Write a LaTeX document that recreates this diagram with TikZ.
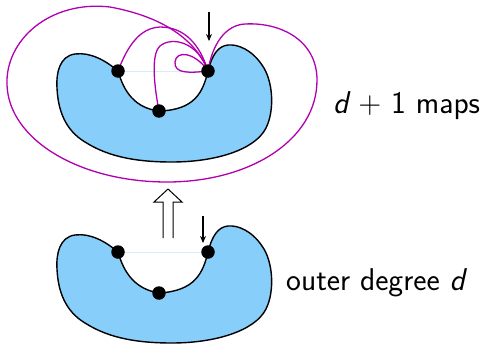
\documentclass[tikz,border=0pt]{standalone}
\usetikzlibrary{arrows.meta}
\definecolor{blobfill}{RGB}{135,206,250}
\definecolor{mapline}{RGB}{176,0,176}
\definecolor{faint}{RGB}{215,235,250}
\tikzset{
  blob/.style={draw=black, line width=1.4pt, fill=blobfill},
  mapedge/.style={draw=mapline, line width=1.3pt},
  dot/.style={circle, fill=black, inner sep=0pt, minimum size=13.5pt},
  rootarrow/.style={draw=black, line width=1.4pt, -{Stealth[length=7pt,width=6pt]}},
  label/.style={font=\sffamily\fontsize{31.5}{36}\selectfont, anchor=base west, inner sep=0pt},
}
\begin{document}
\begin{tikzpicture}[x=1pt,y=-1pt]
\useasboundingbox (0,0) rectangle (485,343);
% ---------- top map ----------
\coordinate (L1) at (118,71);
\coordinate (B1) at (159,111);
\coordinate (R1) at (208,71);
\path[blob] (L1) .. controls (105,60) and (90,52) .. (75,54)
  .. controls (60,56) and (56,72) .. (57,88)
  .. controls (58,110) and (65,130) .. (85,142)
  .. controls (110,158) and (140,162) .. (172,162)
  .. controls (215,162) and (255,150) .. (266,128)
  .. controls (275,110) and (273,80) .. (262,65)
  .. controls (252,50) and (238,44) .. (228,45)
  .. controls (218,46) and (212,55) .. (R1)
  .. controls (203,92) and (195,110) .. (B1)
  .. controls (135,108) and (124,92) .. (L1) -- cycle;
\draw[faint, line width=0.6pt] (L1) -- (R1);
% magenta edges
\draw[mapedge] (R1) .. controls (198,45) and (170,18) .. (110,7)
  .. controls (50,0) and (5,40) .. (7,85)
  .. controls (9,140) and (80,182) .. (167,182)
  .. controls (250,182) and (317,140) .. (317,80)
  .. controls (317,40) and (280,22) .. (245,24)
  .. controls (225,25) and (212,45) .. (R1);
\draw[mapedge] (L1) .. controls (128,45) and (140,28) .. (160,27)
  .. controls (185,27) and (200,45) .. (R1);
\draw[mapedge] (B1) .. controls (155,90) and (150,55) .. (160,46)
  .. controls (172,36) and (198,42) .. (R1);
\draw[mapedge] (R1) .. controls (190,73) and (174,74) .. (175,62)
  .. controls (176,50) and (195,52) .. (R1);
\node[dot] (l1) at (L1) {};
\node[dot] (b1) at (B1) {};
\node[dot] (r1) at (R1) {};
\coordinate (A1) at (209,12);
\draw[rootarrow] (A1) -- (209,41);
\node[label] (t1) at (333,113) {{\itshape d} + 1 maps};
% ---------- double arrow ----------
\draw[line width=1pt, fill=white] (163,238) -- (163,202) -- (154,202) -- (168,189) -- (182,202) -- (173,202) -- (173,238);
% ---------- bottom map ----------
\begin{scope}[yshift=-181pt]
\coordinate (L2) at (118,71);
\coordinate (B2) at (159,112);
\coordinate (R2) at (208,71);
\path[blob] (L2) .. controls (105,60) and (90,52) .. (75,54)
  .. controls (60,56) and (56,72) .. (57,88)
  .. controls (58,110) and (65,130) .. (85,142)
  .. controls (110,158) and (140,162) .. (172,162)
  .. controls (215,162) and (255,150) .. (266,128)
  .. controls (275,110) and (273,80) .. (262,65)
  .. controls (252,50) and (238,44) .. (228,45)
  .. controls (218,46) and (212,55) .. (R2)
  .. controls (203,92) and (195,110) .. (B2)
  .. controls (135,108) and (124,92) .. (L2) -- cycle;
\draw[faint, line width=0.6pt] (L2) -- (R2);
\node[dot] (l2) at (L2) {};
\node[dot] (b2) at (B2) {};
\node[dot] (r2) at (R2) {};
\coordinate (A2) at (203,35);
\draw[rootarrow] (A2) -- (203,62);
\end{scope}
\node[label] (t2) at (286,290) {outer degree {\itshape d}};
\end{tikzpicture}
\end{document}
